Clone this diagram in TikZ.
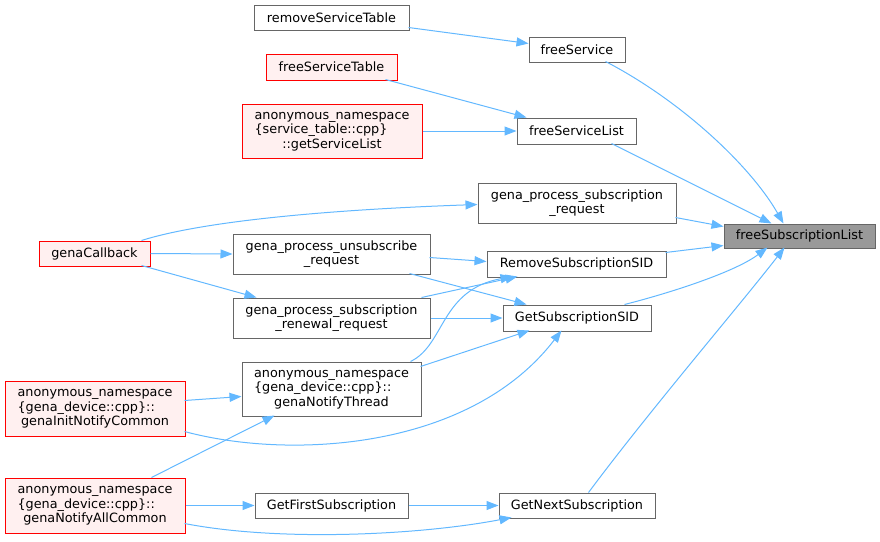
\documentclass[tikz,border=0pt]{standalone}
\usepackage{fontspec}
\setmainfont{DejaVu Sans}
\usetikzlibrary{arrows.meta,calc}
\definecolor{edgec}{HTML}{63B8FF}
\definecolor{bord}{HTML}{666666}
\definecolor{redfill}{HTML}{FFF0F0}
\definecolor{mainfill}{HTML}{999999}
\newcommand\nfont{\fontsize{12.8}{14.5}\selectfont}
\tikzset{
  nbox/.style={draw=bord, fill=white, line width=1pt, inner sep=0pt, align=center, font=\nfont},
  rbox/.style={nbox, draw=red, fill=redfill},
  mbox/.style={nbox, fill=mainfill},
  conn/.style={draw=edgec, line width=1pt, -{Triangle[length=12pt,width=9pt]}},
}
\begin{document}
\begin{tikzpicture}[x=1pt,y=-1pt]
\useasboundingbox (0,0) rectangle (880,541);
% left column
\node[nbox, minimum width=155, minimum height=25] (rst) at (331.5,17.5) {removeServiceTable};
\node[rbox, minimum width=131, minimum height=26] (fst) at (331.5,67) {freeServiceTable};
\node[rbox, minimum width=180, minimum height=54] (gsl) at (332,131) {\begin{tabular}{@{}l@{}}anonymous\_namespace\\\{service\_table::cpp\}\\\multicolumn{1}{@{}c@{}}{::getServiceList}\end{tabular}};
\node[rbox, minimum width=111, minimum height=25] (gcb) at (94.5,253.5) {genaCallback};
\node[nbox, minimum width=197, minimum height=40] (gpur) at (331.5,254) {gena\_process\_unsubscribe\\\_request};
\node[nbox, minimum width=197, minimum height=40] (gpsrr) at (331.5,318) {gena\_process\_subscription\\\_renewal\_request};
\node[nbox, minimum width=179, minimum height=54] (gnt) at (331.5,389) {\begin{tabular}{@{}l@{}}anonymous\_namespace\\\{gena\_device::cpp\}::\\\multicolumn{1}{@{}c@{}}{genaNotifyThread}\end{tabular}};
\node[rbox, minimum width=180, minimum height=55] (ginc) at (95,408.5) {\begin{tabular}{@{}l@{}}anonymous\_namespace\\\{gena\_device::cpp\}::\\\multicolumn{1}{@{}c@{}}{genaInitNotifyCommon}\end{tabular}};
\node[rbox, minimum width=180, minimum height=55] (gnac) at (95,505.5) {\begin{tabular}{@{}l@{}}anonymous\_namespace\\\{gena\_device::cpp\}::\\\multicolumn{1}{@{}c@{}}{genaNotifyAllCommon}\end{tabular}};
\node[nbox, minimum width=153, minimum height=25] (gfs) at (331.5,505.5) {GetFirstSubscription};
% middle column
\node[nbox, minimum width=96, minimum height=25] (fsv) at (577,49.5) {freeService};
\node[nbox, minimum width=119, minimum height=26] (fsl) at (576.5,131) {freeServiceList};
\node[nbox, minimum width=198, minimum height=40] (gpsr) at (577,203) {gena\_process\_subscription\\\_request};
\node[nbox, minimum width=179, minimum height=26] (rsid) at (576.5,264) {RemoveSubscriptionSID};
\node[nbox, minimum width=148, minimum height=26] (gsid) at (577,318) {GetSubscriptionSID};
\node[nbox, minimum width=156, minimum height=25] (gns) at (577,505.5) {GetNextSubscription};
% main
\node[mbox, minimum width=151, minimum height=24] (fsubl) at (799.5,236) {freeSubscriptionList};
% edges
\draw[conn] ($(rst.north west)+(155,23)$) -- ($(fsv.north west)+(0,7)$);
\draw[conn] ($(fst.north west)+(120,26)$) -- ($(fsl.north west)+(10,0)$);
\draw[conn] (gsl.east) -- (fsl.west);
\draw[conn] ($(fsv.north west)+(77,25)$) .. controls (680,100) and (750,165) .. ($(fsubl.north west)+(60,0)$);
\draw[conn] ($(fsl.north west)+(95,26)$) -- ($(fsubl.north west)+(48,0)$);
\draw[conn] ($(gpsr.north west)+(198,35)$) -- ($(fsubl.north west)+(0,3)$);
\draw[conn] ($(rsid.north west)+(179,2)$) -- ($(fsubl.north west)+(0,22)$);
\draw[conn] ($(gsid.north west)+(122,0)$) .. controls (670,293) and (735,272) .. ($(fsubl.north west)+(44,24)$);
\draw[conn] ($(gns.north west)+(90,0)$) .. controls (650,410) and (740,305) .. ($(fsubl.north west)+(61,24)$);
\draw[conn] ($(gcb.north west)+(103,0)$) .. controls (200,222) and (320,210) .. ($(gpsr.north west)+(0,22)$);
\draw[conn] (gcb.east) -- (gpur.west);
\draw[conn] ($(gcb.north west)+(103,25)$) -- ($(gpsrr.north west)+(24,0)$);
\draw[conn] ($(gpur.north west)+(197,24)$) -- ($(rsid.north west)+(0,11)$);
\draw[conn] ($(gpur.north west)+(177,40)$) -- ($(gsid.north west)+(24,0)$);
\draw[conn] ($(gpsrr.north west)+(189,0)$) -- ($(rsid.north west)+(31,26)$);
\draw[conn] (gpsrr.east) -- (gsid.west);
\draw[conn] ($(gnt.north west)+(169,0)$) .. controls (445,345) and (440,290) .. ($(rsid.north west)+(26,26)$);
\draw[conn] ($(gnt.north west)+(179,5)$) -- ($(gsid.north west)+(27,26)$);
\draw[conn] ($(ginc.north west)+(180,20)$) -- ($(gnt.north west)+(0,35)$);
\draw[conn] ($(ginc.north west)+(180,51)$) .. controls (290,460) and (470,450) .. ($(gsid.north west)+(59,26)$);
\draw[conn] ($(gnac.north west)+(147,0)$) -- ($(gnt.north west)+(33,54)$);
\draw[conn] (gnac.east) -- (gfs.west);
\draw[conn] (gfs.east) -- (gns.west);
\draw[conn] ($(gnac.north west)+(180,46)$) .. controls (280,542) and (420,535) .. ($(gns.north west)+(13,25)$);
\end{tikzpicture}
\end{document}
